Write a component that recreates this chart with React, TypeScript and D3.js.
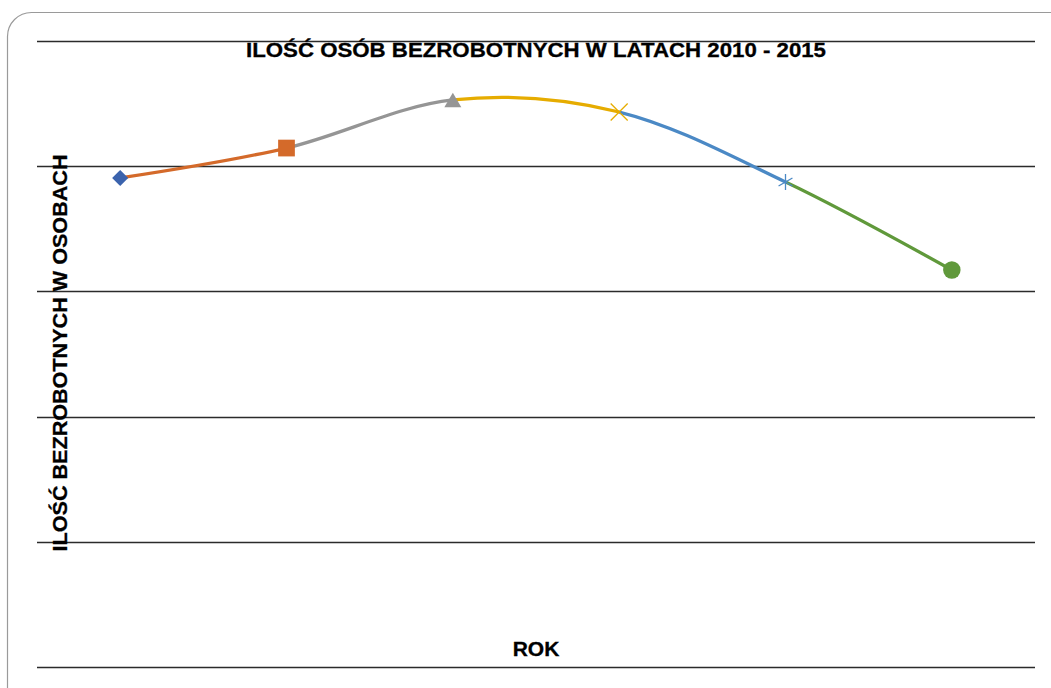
import React, { useEffect, useRef } from "react";
import * as d3 from "d3";

const years = ["2010", "2011", "2012", "2013", "2014", "2015"];
const values = [3906, 4145, 4529, 4433, 3874, 3171];
const yTicks = [0, 1000, 2000, 3000, 4000, 5000];
const pointColors = ["#3B63AD", "#D46A2A", "#959595", "#E6AC00", "#4B89C5", "#60993B"];
const markerTypes = ["diamond", "square", "triangle", "x", "asterisk", "circle"];
const title = "ILOŚĆ OSÓB BEZROBOTNYCH W LATACH 2010 - 2015";
const yTitle = "ILOŚĆ BEZROBOTNYCH W OSOBACH";
const xTitle = "ROK";

const W = 1051;
const H = 688;

export default function App() {
  const ref = useRef<SVGSVGElement | null>(null);

  useEffect(() => {
    document.body.style.margin = "0";
    const svg = d3.select(ref.current);
    svg.selectAll("*").remove();

    const left = 37, right = 1035, top = 41, bottom = 667;
    const x = d3.scaleBand<string>().domain(years).range([left, right]);
    const y = d3.scaleLinear().domain([0, 5000]).range([bottom, top]);
    const cx = (d: string) => (x(d) as number) + x.bandwidth() / 2;

    // border
    svg.append("rect")
      .attr("x", 7.5).attr("y", 12.5)
      .attr("width", 1070).attr("height", 700)
      .attr("rx", 24).attr("ry", 24)
      .attr("fill", "#fff").attr("stroke", "#9a9a9a").attr("stroke-width", 1.2);

    // gridlines
    svg.append("g").selectAll("line").data(yTicks).join("line")
      .attr("x1", left).attr("x2", right)
      .attr("y1", (d) => Math.round(y(d)) + 0.5).attr("y2", (d) => Math.round(y(d)) + 0.5)
      .attr("stroke", "#2b2b2b").attr("stroke-width", 1.4);

    const font = "Liberation Sans, Arial, sans-serif";

    // title
    svg.append("text")
      .attr("x", 536).attr("y", 57)
      .attr("text-anchor", "middle")
      .attr("font-family", font)
      .attr("font-weight", "bold").attr("font-size", 20)
      .attr("textLength", 580).attr("lengthAdjust", "spacingAndGlyphs")
      .attr("fill", "#000").attr("stroke", "#000").attr("stroke-width", 0.3)
      .text(title);

    // y title
    svg.append("text")
      .attr("transform", "translate(67,353) rotate(-90)")
      .attr("text-anchor", "middle")
      .attr("font-family", font)
      .attr("font-weight", "bold").attr("font-size", 21)
      .attr("textLength", 397).attr("lengthAdjust", "spacingAndGlyphs")
      .attr("fill", "#000").attr("stroke", "#000").attr("stroke-width", 0.3)
      .text(yTitle);

    // x title
    svg.append("text")
      .attr("x", 536).attr("y", 656)
      .attr("text-anchor", "middle")
      .attr("font-family", font)
      .attr("font-weight", "bold").attr("font-size", 21)
      .attr("fill", "#000").attr("stroke", "#000").attr("stroke-width", 0.3)
      .text(xTitle);

    const pts: [number, number][] = years.map((yr, i) => [cx(yr), y(values[i])]);
    const line = d3.line().curve(d3.curveCatmullRom.alpha(0));
    const defs = svg.append("defs");
    for (let i = 0; i < pts.length - 1; i++) {
      defs.append("clipPath").attr("id", "seg" + i)
        .append("rect")
        .attr("x", pts[i][0]).attr("y", 0)
        .attr("width", pts[i + 1][0] - pts[i][0]).attr("height", H);
      svg.append("path")
        .attr("d", line(pts) as string)
        .attr("clip-path", `url(#seg${i})`)
        .attr("fill", "none")
        .attr("stroke", pointColors[i + 1])
        .attr("stroke-width", 3.3)
        .attr("stroke-linecap", "round");
    }

    const symbolFor: Record<string, [d3.SymbolType, number, number]> = {
      diamond: [d3.symbolSquare, 130, 45],
      square: [d3.symbolSquare, 280, 0],
      triangle: [d3.symbolTriangle, 125, 0],
      x: [d3.symbolX, 190, 0],
      asterisk: [d3.symbolAsterisk, 181, 0],
      circle: [d3.symbolCircle, 240, 0],
    };
    years.forEach((yr, i) => {
      const [type, size, rot] = symbolFor[markerTypes[i]];
      const stroked = markerTypes[i] === "x" || markerTypes[i] === "asterisk";
      const yOff = markerTypes[i] === "triangle" ? 2.5 : 0;
      svg.append("path")
        .attr("d", d3.symbol().type(type).size(size)() as string)
        .attr("transform", `translate(${pts[i][0]},${pts[i][1] + yOff}) rotate(${rot})`)
        .attr("fill", stroked ? "none" : pointColors[i])
        .attr("stroke", pointColors[i])
        .attr("stroke-width", stroked ? 1.3 : 0);
    });
  }, []);

  return (
    <div style={{ position: "absolute", left: 0, top: 0 }}>
      <svg ref={ref} width={W} height={H} style={{ display: "block" }} />
    </div>
  );
}
